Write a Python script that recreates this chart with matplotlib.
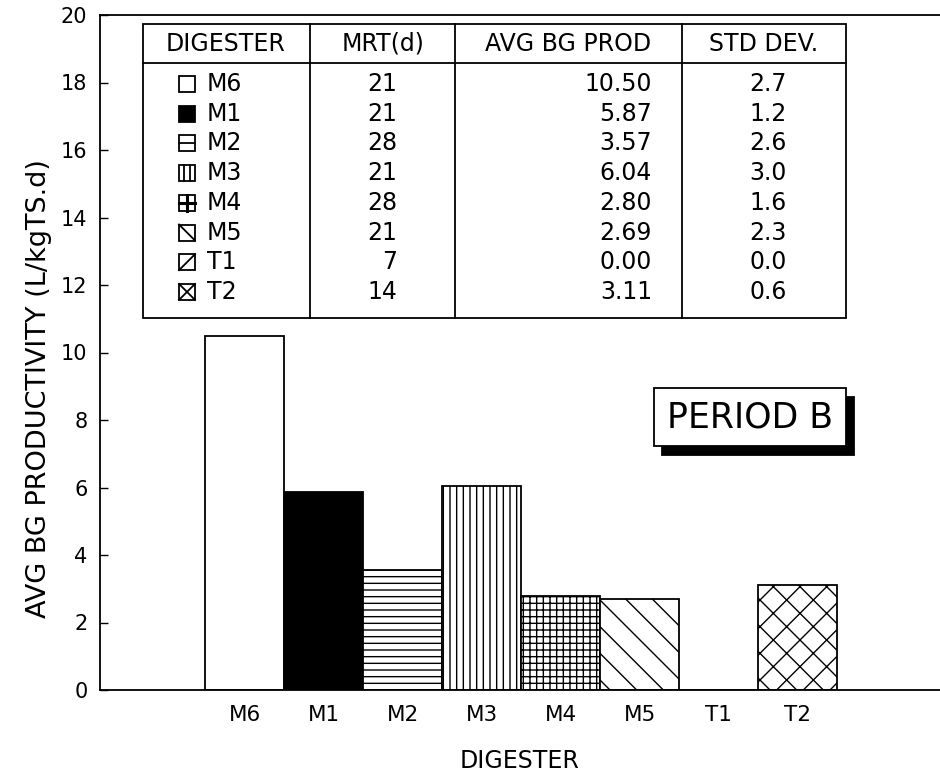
import matplotlib.pyplot as plt
from matplotlib.patches import Rectangle

# data
digesters = ["M6", "M1", "M2", "M3", "M4", "M5", "T1", "T2"]
mrt_days = [21, 21, 28, 21, 28, 21, 7, 14]
avg_bg = [10.50, 5.87, 3.57, 6.04, 2.80, 2.69, 0.00, 3.11]
std_dev = [2.7, 1.2, 2.6, 3.0, 1.6, 2.3, 0.0, 0.6]

# fill and hatch per digester (same order)
faces = ["white", "black", "white", "white", "white", "white", "white", "white"]
hatches = ["", "", "--", "||", "++", "\\", "/", "x"]

# drawn at 80 dpi so the hatch spacing comes out like the plotter fills;
# sizes below are given as points at 100 dpi and scaled by S
DPI = 80
S = 100 / DPI

plt.rcParams["font.family"] = ["DejaVu Sans"]
plt.rcParams["hatch.linewidth"] = 1.0 * S
plt.rcParams["hatch.color"] = "black"

fig = plt.figure(figsize=(940 / DPI, 780 / DPI), dpi=DPI)
ax = fig.add_axes([100 / 940, 90 / 780, 840 / 940, 675 / 780])

lw = 1.3 * S
bars = ax.bar(range(len(digesters)), avg_bg, width=1.0, color=faces,
              edgecolor="black", linewidth=lw)
for b, h in zip(bars, hatches):
    b.set_hatch(h)

ax.set_xlim(-1.83, 8.8)
ax.set_ylim(0, 20)
ax.set_yticks(range(0, 21, 2))
ax.set_xticks(range(len(digesters)))
ax.set_xticklabels(digesters)
ax.tick_params(axis="y", direction="in", length=6 * S, width=1 * S,
               labelsize=15 * S, pad=9 * S)
ax.tick_params(axis="x", length=0, labelsize=15.5 * S, pad=11 * S)
ax.spines["right"].set_visible(False)
for s in ["left", "bottom", "top"]:
    ax.spines[s].set_linewidth(lw)
ax.set_ylabel("AVG BG PRODUCTIVITY (L/kgTS.d)", fontsize=19.5 * S)
ax.yaxis.set_label_coords(-0.057, 0.447)
ax.set_xlabel("DIGESTER", fontsize=17 * S, labelpad=17 * S)

# overlay in pixel coordinates for the table and the label box
ov = fig.add_axes([0, 0, 1, 1])
ov.set_xlim(0, 940)
ov.set_ylim(780, 0)
ov.axis("off")

left, right, top, bottom, head = 143, 846, 24, 318, 63
cols = [310, 455, 682]
ov.add_patch(Rectangle((left, top), right - left, bottom - top, fc="white", ec="black", lw=lw))
ov.plot([left, right], [head, head], color="black", lw=lw)
for c in cols:
    ov.plot([c, c], [top, bottom], color="black", lw=lw)

tfs = 17 * S
headers = ["DIGESTER", "MRT(d)", "AVG BG PROD", "STD DEV."]
hx = [226, 383, 568, 764]
for t, xx in zip(headers, hx):
    ov.text(xx, 44, t, ha="center", va="center", fontsize=tfs)


def glyph(cx, cy, face, hatch, s=16):
    x0, y0 = cx - s / 2, cy - s / 2
    ov.add_patch(Rectangle((x0, y0), s, s, fc=face, ec="black", lw=lw))
    k = dict(color="black", lw=lw)
    if hatch == "--":
        ov.plot([x0, x0 + s], [cy, cy], **k)
    elif hatch == "||":
        ov.plot([x0 + s / 3, x0 + s / 3], [y0, y0 + s], **k)
        ov.plot([x0 + 2 * s / 3, x0 + 2 * s / 3], [y0, y0 + s], **k)
    elif hatch == "++":
        ov.plot([x0, x0 + s], [cy, cy], color="black", lw=2.2 * S)
        ov.plot([cx, cx], [y0, y0 + s], color="black", lw=2.2 * S)
    if hatch in ("\\", "x"):
        ov.plot([x0, x0 + s], [y0, y0 + s], **k)
    if hatch in ("/", "x"):
        ov.plot([x0, x0 + s], [y0 + s, y0], **k)


row0, dy = 84, 29.7
for i, name in enumerate(digesters):
    y = row0 + i * dy
    glyph(187, y, faces[i], hatches[i])
    ov.text(207, y, name, ha="left", va="center", fontsize=tfs)
    ov.text(397, y, f"{mrt_days[i]}", ha="right", va="center", fontsize=tfs)
    ov.text(652, y, f"{avg_bg[i]:.2f}", ha="right", va="center", fontsize=tfs)
    ov.text(787, y, f"{std_dev[i]:.1f}", ha="right", va="center", fontsize=tfs)

# PERIOD B label with drop shadow
ov.add_patch(Rectangle((662, 397), 192, 58, fc="black", ec="black", lw=lw))
ov.add_patch(Rectangle((654, 388), 192, 58, fc="white", ec="black", lw=lw))
ov.text(750, 418, "PERIOD B", ha="center", va="center", fontsize=25 * S)

fig.savefig("out.png", dpi=DPI)
